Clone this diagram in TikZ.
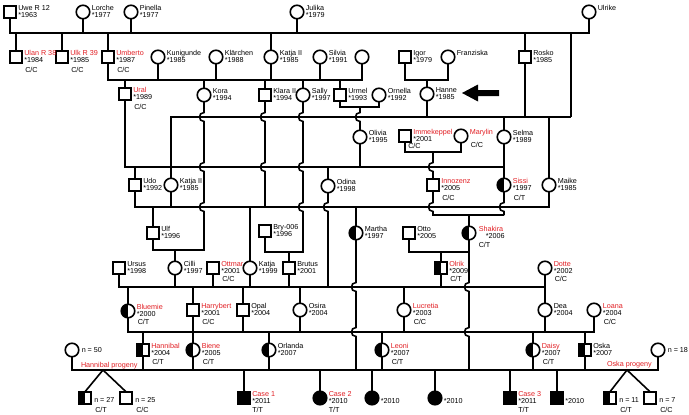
\documentclass[tikz,border=0pt]{standalone}
\usepackage{fontspec}
\setmainfont{Liberation Sans}
\definecolor{pred}{RGB}{225,30,35}
\tikzset{
 ln/.style={line width=1.6pt},
 sym/.style={draw, line width=1.6pt, inner sep=0pt, outer sep=0pt},
 male/.style={sym, rectangle, minimum size=12.5pt},
 fem/.style={sym, circle, minimum size=13.5pt},
 halfl/.style={path picture={\fill[black] (path picture bounding box.south west) rectangle (path picture bounding box.north);}},
 aff/.style={fill=black},
 lbl/.style={font=\fontsize{7.2}{7.5}\selectfont, inner sep=0pt, outer sep=0pt},
}
\newcommand\nm[4][black]{\node[lbl,text=#1,anchor=base west] (#2-n) at ([xshift=2pt,yshift=2pt]#2.east) {#3};\node[lbl,anchor=base west] (#2-y) at ([xshift=2pt,yshift=-5.5pt]#2.east) {#4};}
\newcommand\on[3][black]{\node[lbl,text=#1,anchor=base west] (#2-n) at ([xshift=2pt,yshift=2pt]#2.east) {#3};}
\newcommand\yr[2]{\node[lbl,anchor=base west] (#1-y) at ([xshift=2pt,yshift=-5.5pt]#1.east) {#2};}
\newcommand\gt[3][-15pt]{\node[lbl,anchor=base west] (#2-g) at ([xshift=3pt,yshift=#1]#2.east) {#3};}
\newcommand\hv[2]{-- (#1,#2-4.5) .. controls (#1-6,#2-4.5) and (#1-6,#2+4.5) .. (#1,#2+4.5)}
\begin{document}
\begin{tikzpicture}[x=1pt,y=-1pt]
\useasboundingbox (0,0) rectangle (689,415);
% levels
\coordinate (L33) at (0,33);
\coordinate (L80) at (0,80);
\coordinate (L107) at (0,107);
\coordinate (L117) at (0,117);
\coordinate (L152) at (0,152);
\coordinate (L167) at (0,167);
\coordinate (L207) at (0,207);
\coordinate (L215) at (0,215);
\coordinate (L250) at (0,250);
\coordinate (L252) at (0,252);
\coordinate (L287) at (0,287);
\coordinate (L332) at (0,332);
\coordinate (L370) at (0,370);
\coordinate (m360) at (360,0);
\coordinate (m433) at (433,0);
\coordinate (m571) at (571,0);
\coordinate (ap1) at (103,370);
\coordinate (ap2) at (627,370);
% Row 1
\node[male] (uwe) at (10,12) {};
\node[fem] (lorche) at (83,12) {};
\node[fem] (pinella) at (131,12) {};
\node[fem] (julika) at (297,12) {};
\node[fem] (ulrike) at (589,12) {};
% Row 2
\node[male] (ulan) at (16,57) {};
\node[male] (ulk) at (62,57) {};
\node[male] (umberto) at (108,57) {};
\node[fem] (kunigunde) at (158,57) {};
\node[fem] (klaerchen) at (216,57) {};
\node[fem] (katjaII) at (271,57) {};
\node[fem] (silvia) at (320,57) {};
\node[fem] (unn) at (362,57) {};
\node[male] (igor) at (405,57) {};
\node[fem] (franziska) at (448,57) {};
\node[male] (rosko) at (525,57) {};
% Row 3
\node[male] (ural) at (125,94) {};
\node[fem] (kora) at (204,95) {};
\node[male] (klara) at (265,95) {};
\node[fem] (sally) at (303,95) {};
\node[male] (urmel) at (340,95) {};
\node[fem] (ornella) at (379,95) {};
\node[fem] (hanne) at (427,94) {};
% Row 4
\node[fem] (olivia) at (360,137) {};
\node[male] (immekeppel) at (405,136) {};
\node[fem] (marylin) at (461,136) {};
\node[fem] (selma) at (504,137) {};
% Row 5
\node[male] (udo) at (135,185) {};
\node[fem] (katjaIIb) at (171,185) {};
\node[fem] (odina) at (328,186) {};
\node[male] (innozenz) at (433,185) {};
\node[fem,halfl] (sissi) at (504,185) {};
\node[fem] (maike) at (549,185) {};
% Row 6
\node[male] (ulf) at (153,233) {};
\node[male] (bry) at (265,231) {};
\node[fem,halfl] (martha) at (356,233) {};
\node[male] (otto) at (409,233) {};
\node[fem,halfl] (shakira) at (469,233) {};
% Row 7
\node[male] (ursus) at (119,268) {};
\node[fem] (cilli) at (175,268) {};
\node[male] (ottmar) at (213,268) {};
\node[fem] (katja) at (250,268) {};
\node[male] (brutus) at (289,268) {};
\node[male,halfl] (olrik) at (441,268) {};
\node[fem] (dotte) at (545,268) {};
% Row 8
\node[fem,halfl] (bluemie) at (128,311) {};
\node[male] (harrybert) at (193,310) {};
\node[male] (opal) at (243,310) {};
\node[fem] (osira) at (300,310) {};
\node[fem] (lucretia) at (404,310) {};
\node[fem] (dea) at (545,310) {};
\node[fem] (loana) at (594,310) {};
% Row 9
\node[fem] (n50) at (72,350) {};
\node[male,halfl] (hannibal) at (143,350) {};
\node[fem,halfl] (biene) at (193,350) {};
\node[fem,halfl] (orlanda) at (269,350) {};
\node[fem,halfl] (leoni) at (382,350) {};
\node[fem,halfl] (daisy) at (533,350) {};
\node[male,halfl] (oska) at (585,350) {};
\node[fem] (n18) at (658,350) {};
% Row 10
\node[male,halfl] (n27) at (85,398) {};
\node[male] (n25) at (126,398) {};
\node[male,aff] (case1) at (244,398) {};
\node[fem,aff] (case2) at (320,398) {};
\node[fem,aff] (b2010a) at (372,398) {};
\node[fem,aff] (b2010b) at (435,398) {};
\node[male,aff] (case3) at (510,398) {};
\node[male,aff] (b2010c) at (557,398) {};
\node[male,halfl] (n11) at (610,398) {};
\node[male] (n7) at (650,398) {};
% arrow
\fill (462,93) -- (478,84.5) -- (478,90) -- (499,90) -- (499,96) -- (478,96) -- (478,101.5) -- cycle;
% ---------- connectors
\draw[ln] (uwe.south) -- (uwe.south|-L33) -- (ulrike.south|-L33) -- (ulrike.south);
\foreach \p in {lorche,pinella,julika} \draw[ln] (\p.south) -- (\p.south|-L33);
\foreach \p in {ulan,ulk,umberto,katjaII,rosko} \draw[ln] (\p.north) -- (\p.north|-L33);
\draw[ln] (m571|-L33) -- (m571|-L117);
\draw[ln] (umberto.south) -- (umberto.south|-L80) -- (unn.south|-L80) -- (unn.south);
\foreach \p in {kunigunde,klaerchen,katjaII,silvia} \draw[ln] (\p.south) -- (\p.south|-L80);
\foreach \p in {ural,kora,klara,sally,urmel} \draw[ln] (\p.north) -- (\p.north|-L80);
\draw[ln] (igor.south) -- (igor.south|-L80) -- (franziska.south|-L80) -- (franziska.south);
\draw[ln] (hanne.north) -- (hanne.north|-L80);
\draw[ln] (urmel.south) -- (urmel.south|-L107) -- (ornella.south|-L107) -- (ornella.south);
\draw[ln] (m360|-L107) \hv{360}{117} -- (olivia.north);
\draw[ln] (katjaIIb.north) -- (katjaIIb.north|-L117) -- (m571|-L117);
\draw[ln] (hanne.south) -- (hanne.south|-L117);
\draw[ln] (rosko.south) -- (rosko.south|-L117);
\draw[ln] (selma.north) -- (selma.north|-L117);
\draw[ln] (maike.north) -- (maike.north|-L117);
\draw[ln] (kora.south) \hv{204}{117} \hv{204}{167} \hv{204}{207} -- (kora.south|-L250) -- (ulf.south|-L250) -- (ulf.south);
\draw[ln] (cilli.north) -- (cilli.north|-L250);
\draw[ln] (klara.south) \hv{265}{117} \hv{265}{167} -- (klara.south|-L207);
\draw[ln] (sally.south) \hv{303}{117} \hv{303}{167} \hv{303}{207} -- (sally.south|-L252) -- (bry.south|-L252) -- (bry.south);
\draw[ln] (brutus.north) -- (brutus.north|-L252);
\draw[ln] (ural.south) -- (ural.south|-L167) -- (selma.south|-L167) -- (selma.south);
\foreach \p in {udo,odina,sissi} \draw[ln] (\p.north) -- (\p.north|-L167);
\draw[ln] (olivia.south) -- (olivia.south|-L167);
\draw[ln] (immekeppel.south) -- (immekeppel.south|-L152) -- (marylin.south|-L152) -- (marylin.south);
\draw[ln] (m433|-L152) \hv{433}{167} -- (innozenz.north);
\draw[ln] (udo.south) -- (udo.south|-L207) -- (maike.south|-L207) -- (maike.south);
\draw[ln] (katjaIIb.south) -- (katjaIIb.south|-L207);
\foreach \p in {ulf,katja,martha} \draw[ln] (\p.north) -- (\p.north|-L207);
\draw[ln] (odina.south) \hv{328}{207} -- (odina.south|-L287);
\draw[ln] (innozenz.south) \hv{433}{207} -- (innozenz.south|-L215) -- (sissi.south|-L215);
\draw[ln] (sissi.south) \hv{504}{207} -- (sissi.south|-L215);
\draw[ln] (shakira.north) -- (shakira.north|-L215);
\draw[ln] (otto.south) -- (otto.south|-L252) -- (shakira.south|-L252);
\draw[ln] (olrik.north) -- (olrik.north|-L252);
\draw[ln] (martha.south) \hv{356}{287} \hv{356}{332} -- (martha.south|-L370);
\draw[ln] (shakira.south) \hv{469}{287} \hv{469}{332} -- (shakira.south|-L370);
\draw[ln] (ursus.south) -- (ursus.south|-L287) -- (dotte.south|-L287) -- (dotte.south);
\foreach \p in {cilli,ottmar,katja,brutus,olrik} \draw[ln] (\p.south) -- (\p.south|-L287);
\foreach \p in {bluemie,harrybert,opal,osira,lucretia,dea} \draw[ln] (\p.north) -- (\p.north|-L287);
\draw[ln] (bluemie.south) -- (bluemie.south|-L332) -- (loana.south|-L332) -- (loana.south);
\draw[ln] (harrybert.south) -- (biene.north);
\foreach \p in {opal,osira,lucretia,dea} \draw[ln] (\p.south) -- (\p.south|-L332);
\foreach \p in {hannibal,orlanda,leoni,daisy,oska} \draw[ln] (\p.north) -- (\p.north|-L332);
\draw[ln] (n50.south) -- (n50.south|-L370) -- (n18.south|-L370) -- (n18.south);
\foreach \p in {hannibal,biene,orlanda,leoni,daisy,oska} \draw[ln] (\p.south) -- (\p.south|-L370);
\foreach \p in {case1,case2,b2010a,b2010b,case3,b2010c} \draw[ln] (\p.north) -- (\p.north|-L370);
\draw[ln] (n27.north) -- (ap1) -- (n25.north);
\draw[ln] (n11.north) -- (ap2) -- (n7.north);
% ---------- labels
\nm{uwe}{Uwe R 12}{*1963}
\nm{lorche}{Lorche}{*1977}
\nm{pinella}{Pinella}{*1977}
\nm{julika}{Julika}{*1979}
\on{ulrike}{Ulrike}
\nm[pred]{ulan}{Ulan R 38}{*1984}\gt{ulan}{C/C}
\nm[pred]{ulk}{Ulk R 39}{*1985}\gt{ulk}{C/C}
\nm[pred]{umberto}{Umberto}{*1987}\gt{umberto}{C/C}
\nm{kunigunde}{Kunigunde}{*1985}
\nm{klaerchen}{Klärchen}{*1988}
\nm{katjaII}{Katja II}{*1985}
\nm{silvia}{Silvia}{*1991}
\nm{igor}{Igor}{*1979}
\on{franziska}{Franziska}
\nm{rosko}{Rosko}{*1985}
\nm[pred]{ural}{Ural}{*1989}\gt{ural}{C/C}
\nm{kora}{Kora}{*1994}
\nm{klara}{Klara II}{*1994}
\nm{sally}{Sally}{*1997}
\nm{urmel}{Urmel}{*1993}
\nm{ornella}{Ornella}{*1992}
\nm{hanne}{Hanne}{*1985}
\nm{olivia}{Olivia}{*1995}
\nm[pred]{immekeppel}{Immekeppel}{*2001}
\node[lbl,anchor=base west] (immekeppel-g) at ([xshift=-3pt,yshift=-12pt]immekeppel.east) {C/C};
\on[pred]{marylin}{Marylin}\gt[-11pt]{marylin}{C/C}
\nm{selma}{Selma}{*1989}
\nm{udo}{Udo}{*1992}
\nm{katjaIIb}{Katja II}{*1985}
\nm{odina}{Odina}{*1998}
\nm[pred]{innozenz}{Innozenz}{*2005}\gt{innozenz}{C/C}
\nm[pred]{sissi}{Sissi}{*1997}\gt{sissi}{C/T}
\nm{maike}{Maike}{*1985}
\nm{ulf}{Ulf}{*1996}
\nm{bry}{Bry-006}{*1996}
\nm{martha}{Martha}{*1997}
\nm{otto}{Otto}{*2005}
\node[lbl,text=pred,anchor=base west] (shakira-n) at ([xshift=3pt,yshift=2pt]shakira.east) {Shakira};
\node[lbl,anchor=base west] (shakira-y) at ([xshift=10pt,yshift=-5.5pt]shakira.east) {*2006};
\gt[-14pt]{shakira}{C/T}
\nm{ursus}{Ursus}{*1998}
\nm{cilli}{Cilli}{*1997}
\nm[pred]{ottmar}{Ottmar}{*2001}\gt[-13pt]{ottmar}{C/C}
\nm{katja}{Katja}{*1999}
\nm{brutus}{Brutus}{*2001}
\nm[pred]{olrik}{Olrik}{*2009}\gt[-13pt]{olrik}{C/T}
\nm[pred]{dotte}{Dotte}{*2002}\gt[-13pt]{dotte}{C/C}
\nm[pred]{bluemie}{Bluemie}{*2000}\gt[-13pt]{bluemie}{C/T}
\nm[pred]{harrybert}{Harrybert}{*2001}\gt[-14pt]{harrybert}{C/C}
\nm{opal}{Opal}{*2004}
\nm{osira}{Osira}{*2004}
\nm[pred]{lucretia}{Lucretia}{*2003}\gt[-14pt]{lucretia}{C/C}
\nm{dea}{Dea}{*2004}
\nm[pred]{loana}{Loana}{*2004}\gt[-14pt]{loana}{C/C}
\node[lbl,anchor=base west] (n50-n) at ([xshift=3pt,yshift=-2pt]n50.east) {n = 50};
\nm[pred]{hannibal}{Hannibal}{*2004}\gt[-14pt]{hannibal}{C/T}
\nm[pred]{biene}{Biene}{*2005}\gt[-14pt]{biene}{C/T}
\nm{orlanda}{Orlanda}{*2007}
\nm[pred]{leoni}{Leoni}{*2007}\gt[-14pt]{leoni}{C/T}
\nm[pred]{daisy}{Daisy}{*2007}\gt[-14pt]{daisy}{C/T}
\nm{oska}{Oska}{*2007}
\node[lbl,anchor=base west] (n18-n) at ([xshift=3pt,yshift=-2pt]n18.east) {n = 18};
\node[lbl,text=pred,anchor=base west] (hprog) at (81,367) {Hannibal progeny};
\node[lbl,text=pred,anchor=base west] (oprog) at (607,366) {Oska progeny};
\node[lbl,anchor=base west] (n27-n) at ([xshift=3pt,yshift=-4pt]n27.east) {n = 27};
\node[lbl,anchor=base west] (n27-g) at ([xshift=4pt,yshift=-14pt]n27.east) {C/T};
\node[lbl,anchor=base west] (n25-n) at ([xshift=3pt,yshift=-4pt]n25.east) {n = 25};
\node[lbl,anchor=base west] (n25-g) at ([xshift=4pt,yshift=-14pt]n25.east) {C/C};
\nm[pred]{case1}{Case 1}{*2011}\node[lbl,anchor=base west] (case1-g) at ([xshift=2pt,yshift=-14pt]case1.east) {T/T};
\nm[pred]{case2}{Case 2}{*2010}\node[lbl,anchor=base west] (case2-g) at ([xshift=2pt,yshift=-14pt]case2.east) {T/T};
\yr{b2010a}{*2010}
\yr{b2010b}{*2010}
\nm[pred]{case3}{Case 3}{*2011}\node[lbl,anchor=base west] (case3-g) at ([xshift=2pt,yshift=-14pt]case3.east) {T/T};
\yr{b2010c}{*2010}
\node[lbl,anchor=base west] (n11-n) at ([xshift=3pt,yshift=-4pt]n11.east) {n = 11};
\node[lbl,anchor=base west] (n11-g) at ([xshift=4pt,yshift=-14pt]n11.east) {C/T};
\node[lbl,anchor=base west] (n7-n) at ([xshift=3pt,yshift=-4pt]n7.east) {n = 7};
\node[lbl,anchor=base west] (n7-g) at ([xshift=4pt,yshift=-14pt]n7.east) {C/C};
\end{tikzpicture}
\end{document}
